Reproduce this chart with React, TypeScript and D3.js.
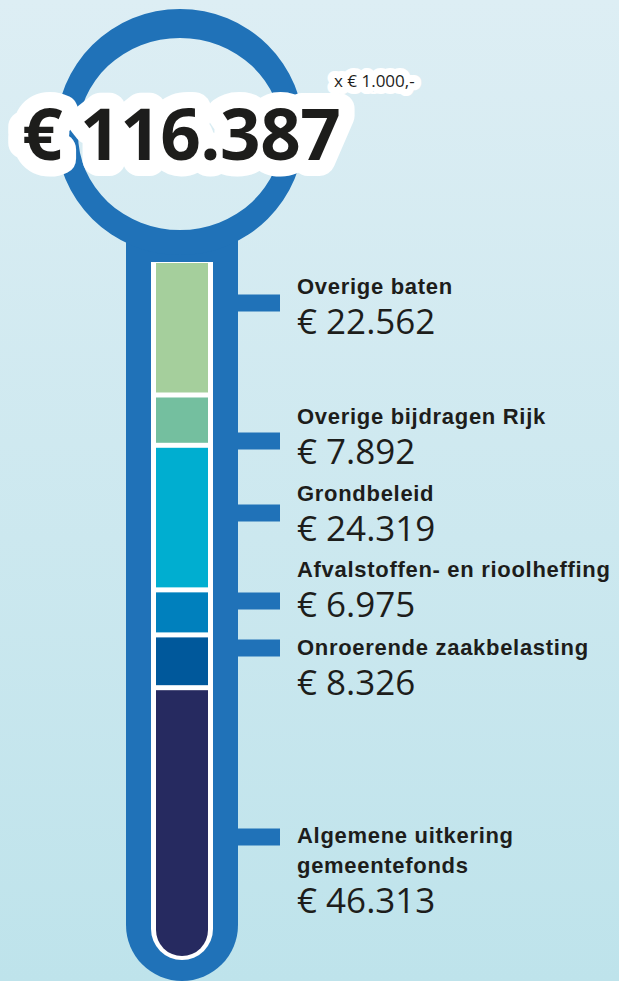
import React from "react";
import * as d3 from "d3";

// ---- data ----
const categories: string[][] = [
  ["Overige baten"],
  ["Overige bijdragen Rijk"],
  ["Grondbeleid"],
  ["Afvalstoffen- en rioolheffing"],
  ["Onroerende zaakbelasting"],
  ["Algemene uitkering", "gemeentefonds"],
];
const values: number[] = [22562, 7892, 24319, 6975, 8326, 46313];
const colors: string[] = ["#a5cf9c", "#74bf9f", "#00aed0", "#0080bd", "#00589b", "#262a60"];
const unitLabel = "x € 1.000,-";

// ---- layout ----
const W = 619;
const H = 981;
const BLUE = "#2072b8";
const TEXT = "#1d1d1b";
const cx = 182;
const tubeOuter = { x0: 126, x1: 238, top: 232, bottom: 981 };
const tubeWhite = { x0: 151, x1: 213, top: 262, bottom: 960 };
const fill = { x0: 156, x1: 208, top: 263, bottom: 956 };
const GAP = 5;
const tickY = [303, 441, 513, 601, 648, 837]; // tick rows
const labelBase = [294, 424, 501, 577, 655, 843]; // label first-line baselines
const labelX = 297;

const nl = d3.formatLocale({ decimal: ",", thousands: ".", grouping: [3], currency: ["€ ", ""] });
const fmt = nl.format(",");

function roundedBottom(x0: number, x1: number, top: number, bottom: number) {
  const r = (x1 - x0) / 2;
  const p = d3.path();
  p.moveTo(x0, top);
  p.lineTo(x1, top);
  p.lineTo(x1, bottom - r);
  p.arc((x0 + x1) / 2, bottom - r, r, 0, Math.PI, false);
  p.closePath();
  return p.toString();
}

function ellipse(ecx: number, ecy: number, rx: number, ry: number) {
  return `M${ecx - rx},${ecy} a${rx},${ry} 0 1,0 ${2 * rx},0 a${rx},${ry} 0 1,0 ${-2 * rx},0 Z`;
}

export default function App() {
  const total = d3.sum(values);
  const avail = fill.bottom - fill.top - GAP * (values.length - 1);
  const y = d3.scaleLinear().domain([0, total]).range([0, avail]);
  const cum = d3.cumsum(values);
  const segs = values.map((v, i) => {
    const before = i === 0 ? 0 : cum[i - 1];
    const y0 = fill.top + y(before) + GAP * i;
    return { y0, h: y(v), color: colors[i] };
  });

  const ringPath = ellipse(cx - 2, 132, 124, 123) + " " + ellipse(cx - 2, 134, 102, 96);

  return (
    <svg
      width={W}
      height={H}
      style={{ position: "absolute", left: 0, top: 0, display: "block" }}
      xmlns="http://www.w3.org/2000/svg"
    >
      <defs>
        <linearGradient id="bg" x1="0" y1="0" x2="0" y2="1">
          <stop offset="0" stopColor="#ddeef4" />
          <stop offset="1" stopColor="#bee3eb" />
        </linearGradient>
        <clipPath id="fillClip">
          <path d={roundedBottom(fill.x0, fill.x1, fill.top, fill.bottom)} />
        </clipPath>
      </defs>
      <rect x={0} y={0} width={W} height={H} fill="url(#bg)" />

      {/* tube */}
      <path d={roundedBottom(tubeOuter.x0, tubeOuter.x1, tubeOuter.top, tubeOuter.bottom)} fill={BLUE} />
      {/* ring */}
      <path d={ringPath} fill={BLUE} fillRule="evenodd" />
      <path d={roundedBottom(tubeWhite.x0, tubeWhite.x1, tubeWhite.top, tubeWhite.bottom)} fill="#ffffff" />

      <g clipPath="url(#fillClip)">
        {segs.map((s, i) => (
          <rect key={i} x={fill.x0} y={s.y0} width={fill.x1 - fill.x0} height={s.h} fill={s.color} />
        ))}
      </g>

      {/* ticks + labels */}
      {categories.map((lines, i) => {
        const ty = tickY[i];
        const baseline = labelBase[i];
        return (
          <g key={i}>
            <rect x={tubeOuter.x1 - 1} y={ty - 8.5} width={43} height={17} fill={BLUE} />
            {lines.map((ln, j) => (
              <text
                key={j}
                x={labelX}
                y={baseline + j * 30}
                fontFamily="'Liberation Sans', Arial, sans-serif"
                fontWeight={700}
                fontSize={22}
                letterSpacing={0.7}
                fill={TEXT}
              >
                {ln}
              </text>
            ))}
            <text
              x={labelX}
              y={baseline + (lines.length - 1) * 30 + 40}
              fontFamily="'Open Sans', sans-serif"
              fontSize={35}
              fill={TEXT}
            >
              {"€ " + fmt(values[i])}
            </text>
          </g>
        );
      })}

      {/* total with white halo */}
      <g fontFamily="'Open Sans', sans-serif" fill={TEXT}>
        <text
          x={22}
          y={160}
          fontSize={71}
          fontWeight={700}
          letterSpacing={-0.5}
          stroke="#ffffff"
          strokeWidth={32}
          strokeLinejoin="round"
          paintOrder="stroke"
        >
          {"€ " + fmt(total)}
        </text>
        <text
          x={334}
          y={87}
          fontSize={17}
          stroke="#ffffff"
          strokeWidth={14}
          strokeLinejoin="round"
          paintOrder="stroke"
        >
          {unitLabel}
        </text>
      </g>
    </svg>
  );
}
